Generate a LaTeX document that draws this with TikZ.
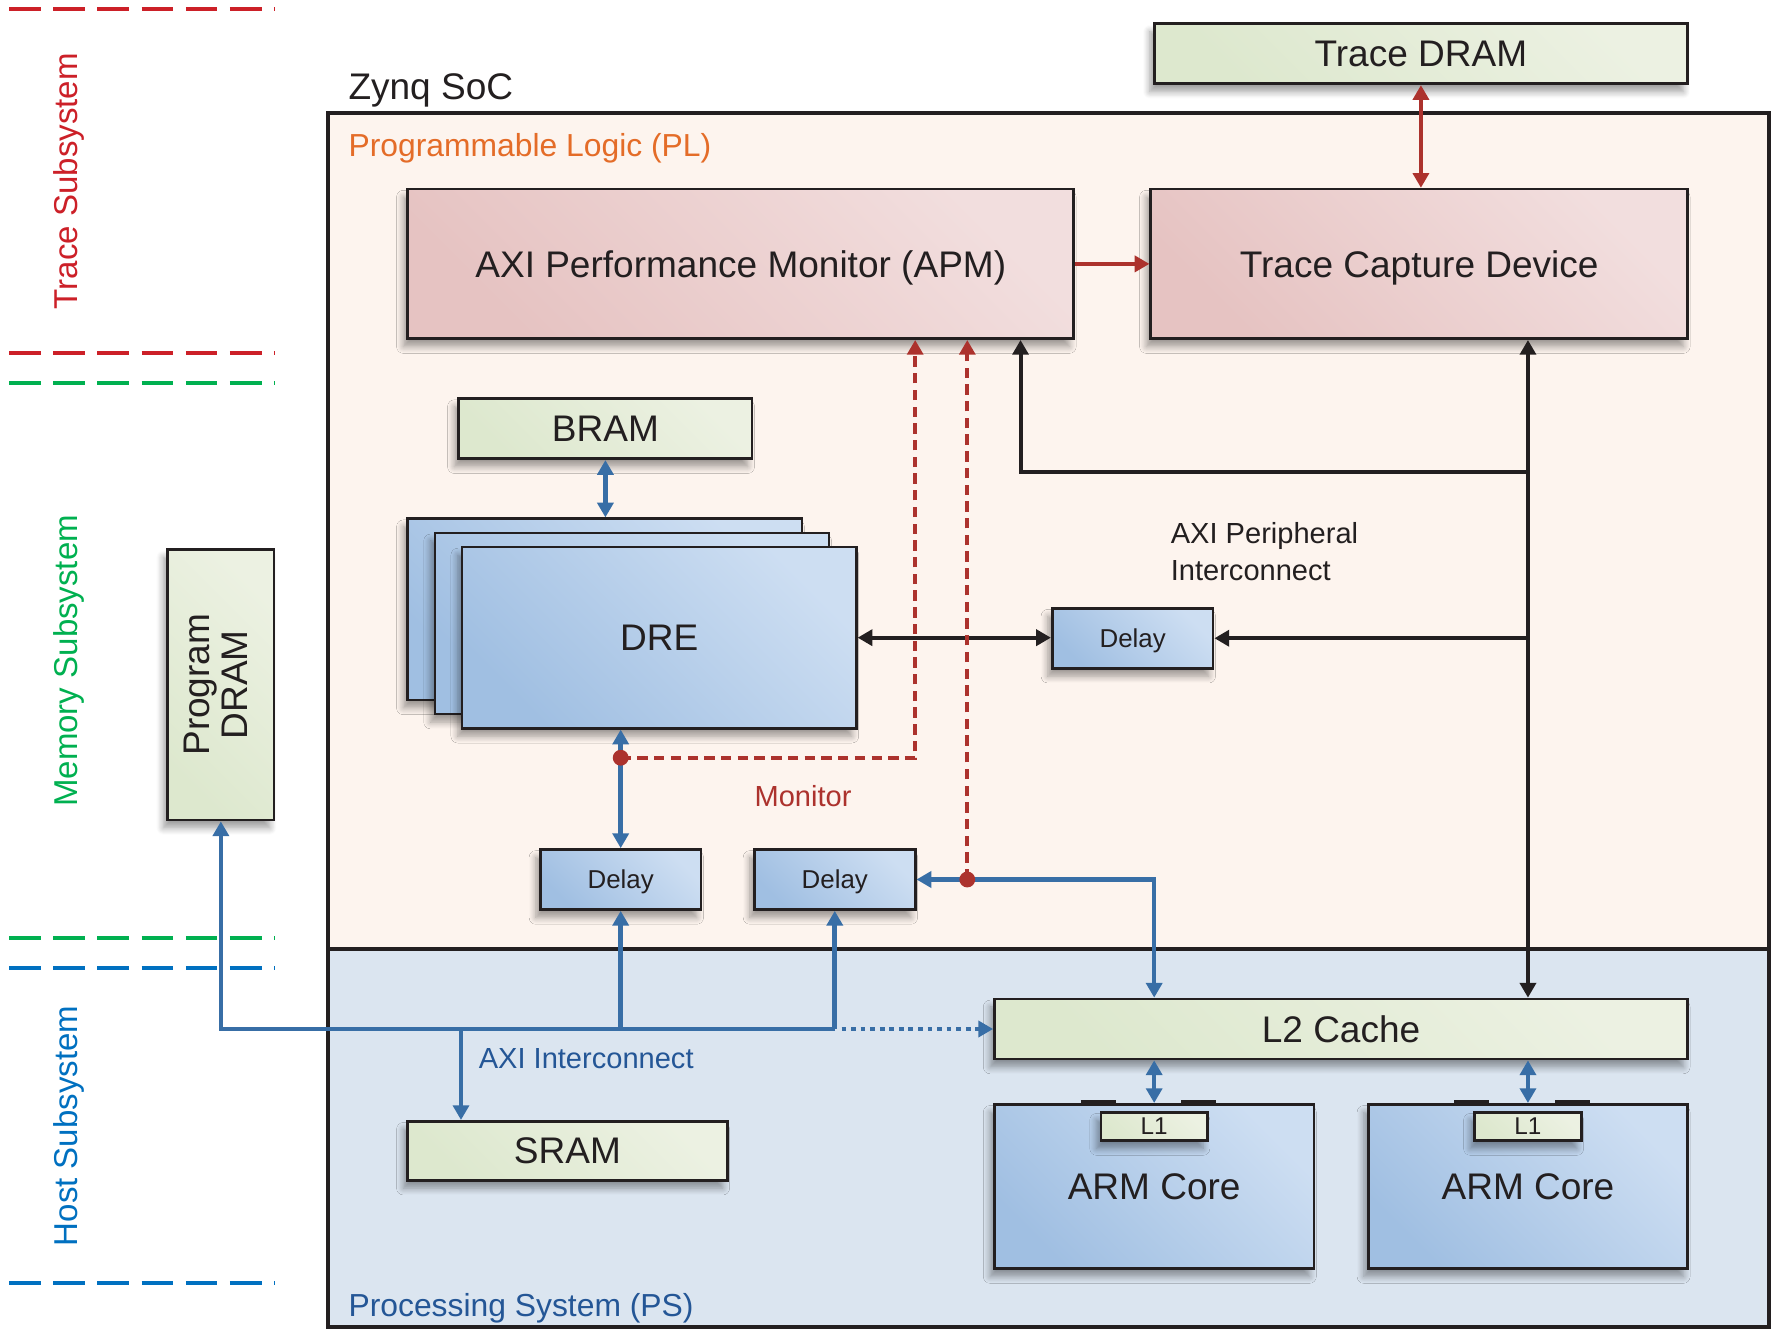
\documentclass[tikz,border=0pt]{standalone}
\usepackage{fontspec}
\setmainfont{Liberation Sans}
\usetikzlibrary{arrows.meta, positioning, calc, shadows.blur}

\definecolor{ink}{RGB}{35,31,32}
\definecolor{plbg}{RGB}{253,244,238}
\definecolor{psbg}{RGB}{219,229,240}
\definecolor{memlo}{RGB}{221,232,206}
\definecolor{memhi}{RGB}{236,241,226}
\definecolor{tcdlo}{RGB}{230,195,194}
\definecolor{tcdhi}{RGB}{242,222,222}
\definecolor{corelo}{RGB}{160,191,226}
\definecolor{corehi}{RGB}{205,222,242}
\definecolor{tracered}{RGB}{204,32,40}
\definecolor{memgreen}{RGB}{0,176,80}
\definecolor{hostblue}{RGB}{0,112,192}
\definecolor{plorange}{RGB}{228,108,40}
\definecolor{psblue}{RGB}{36,86,150}
\definecolor{busblue}{RGB}{56,110,166}
\definecolor{monred}{RGB}{172,50,45}

\tikzset{
    box/.style = {draw=ink, line width=0.67pt, inner sep=0pt, text=ink, text depth=0pt,
                  blur shadow={shadow xshift=-1.1pt, shadow yshift=-2pt,
                               shadow blur radius=1.7pt, shadow blur steps=8,
                               shadow opacity=38}},
    mem/.style = {box, top color=memhi, bottom color=memlo, shading angle=-45},
    tracebox/.style = {box, top color=tcdhi, bottom color=tcdlo, shading angle=-45},
    core/.style = {box, top color=corehi, bottom color=corelo, shading angle=-45},
    delaybox/.style = {core, minimum width=1.42cm, minimum height=0.53cm,
                       font=\fontsize{6.5}{7}\selectfont},
    lbl/.style = {inner sep=0pt},
    sublabel/.style = {rotate=90, anchor=base, inner sep=0pt, font=\fontsize{8.3}{9}\selectfont},
    split/.style = {line width=1pt, dash pattern=on 0.28cm off 0.11cm},
    bus/.style = {busblue, line width=1.15pt},
    ctrl/.style = {ink, line width=1pt},
    tr/.style = {monred, line width=1pt},
    monitor/.style = {monred, line width=1pt, dash pattern=on 2.6pt off 1.6pt},
    point/.style = {circle, fill=monred, inner sep=0pt, minimum size=0.14cm, node contents={}}
}

\begin{document}
\begin{tikzpicture}[
      > = {Triangle[length=3.7pt, width=4pt]}, % arrow head style
      font = \fontsize{9.3}{9.7}\selectfont
    ]
    \useasboundingbox (0,0) rectangle (15.68,11.75);

    % subsystem borders and names
    \foreach \y/\col in {11.67/tracered, 8.63/tracered, 8.37/memgreen,
                         3.47/memgreen, 3.20/hostblue, 0.42/hostblue}
        \draw[split, color=\col] (0.08,\y) -- (2.43,\y);
    \node[sublabel, text=tracered] (tsub) at (0.685,10.15) {Trace Subsystem};
    \node[sublabel, text=memgreen] (msub) at (0.685,5.915) {Memory Subsystem};
    \node[sublabel, text=hostblue] (hsub) at (0.685,1.81) {Host Subsystem};

    % Zynq SoC: PL on top of PS
    \fill[plbg] (2.90,3.37) rectangle (15.62,10.75);
    \fill[psbg] (2.90,0.03) rectangle (15.62,3.37);
    \draw[ink, line width=1pt] (2.90,3.37) -- (15.62,3.37);
    \draw[ink, line width=1pt] (2.90,0.03) rectangle (15.62,10.75);
    \node[lbl, anchor=base west, text=ink] (soc) at (3.07,10.87) {Zynq SoC};
    \node[lbl, anchor=base west, text=plorange, font=\fontsize{8}{9}\selectfont] (pl) at (3.07,10.37) {Programmable Logic (PL)};
    \node[lbl, anchor=base west, text=psblue, font=\fontsize{8}{9}\selectfont] (ps) at (3.07,0.13) {Processing System (PS)};

    % trace blocks
    \node[mem, minimum width=4.71cm, minimum height=0.53cm] (tdram) at (12.545,11.275) {Trace DRAM};
    \node[tracebox, minimum width=5.88cm, minimum height=1.32cm] (apm) at (6.54,9.42) {AXI Performance Monitor (APM)};
    \node[tracebox, minimum width=4.74cm, minimum height=1.32cm] (tcd) at (12.53,9.42) {Trace Capture Device};

    % DRE stack with its BRAM
    \node[mem, minimum width=2.59cm, minimum height=0.53cm] (bram) at (5.345,7.965) {BRAM};
    \node[core, minimum width=3.48cm, minimum height=1.6cm] (dre3) at (5.34,6.37) {};
    \node[core, minimum width=3.48cm, minimum height=1.6cm] (dre2) at (5.58,6.245) {};
    \node[core, minimum width=3.48cm, minimum height=1.6cm] (dre) at (5.82,6.12) {DRE};

    \node[delaybox] (dl1) at (10.0,6.115) {Delay};
    \node[delaybox] (dl2) at (5.48,3.985) {Delay};
    \node[delaybox] (dl3) at (7.37,3.985) {Delay};

    % host side
    \node[mem, minimum width=0.94cm, minimum height=2.39cm] (pdram) at (1.95,5.705)
        {\rotatebox{90}{\begin{tabular}{@{}c@{}}Program\\DRAM\end{tabular}}};
    \node[mem, minimum width=2.82cm, minimum height=0.52cm] (sram) at (5.01,1.59) {SRAM};
    \node[mem, minimum width=6.12cm, minimum height=0.53cm] (l2) at (11.84,2.665) {L2 Cache};
    \node[core, minimum width=2.82cm, minimum height=1.45cm] (arm1) at (10.19,1.275) {ARM Core};
    \node[core, minimum width=2.82cm, minimum height=1.45cm] (arm2) at (13.49,1.275) {ARM Core};
    \node[mem, minimum width=0.94cm, minimum height=0.25cm, font=\fontsize{6.1}{7}\selectfont] (l1a) at (10.19,1.805) {L1};
    \node[mem, minimum width=0.94cm, minimum height=0.25cm, font=\fontsize{6.1}{7}\selectfont] (l1b) at (13.49,1.805) {L1};
    \foreach \arm in {arm1, arm2} {
        \draw[ink, line width=1.3pt] ([xshift=-0.65cm]\arm.north) -- ([xshift=-0.34cm]\arm.north);
        \draw[ink, line width=1.3pt] ([xshift=0.24cm]\arm.north) -- ([xshift=0.55cm]\arm.north);
    }

    % trace links
    \draw[tr, ->] (apm) -- (tcd);
    \draw[tr, <->] (tdram.south) -- (tdram.south |- tcd.north);

    % AXI peripheral interconnect
    \coordinate (pj) at (13.49,7.58);
    \draw[ctrl, <->] (tcd.south -| pj) -- (l2.north -| pj);
    \draw[ctrl, ->] (pj) -| ([xshift=2.47cm]apm.south);
    \draw[ctrl, ->] (dl1.east -| pj) -- (dl1.east);
    \draw[ctrl, <->] (dre.east) -- (dre.east -| dl1.west);
    \node[lbl, anchor=north west, align=left, text=ink, font=\fontsize{7.3}{9.1}\selectfont] (apic) at (10.33,7.14)
        {AXI Peripheral\\Interconnect};

    % AXI interconnect
    \coordinate (axi) at (7.37,2.665);
    \draw[bus, <-] (pdram.south) |- (axi);
    \draw[bus, ->] (dl2.south |- axi) -- (dl2.south);
    \draw[bus, ->] (axi) -- (dl3.south);
    \draw[bus, ->] ([xshift=-0.94cm]sram.north |- axi) -- ([xshift=-0.94cm]sram.north);
    \draw[bus, ->, dash pattern=on 1.2pt off 1.2pt] ([xshift=0.06cm]axi) -- (l2.west);
    \node[lbl, anchor=base west, text=psblue, font=\fontsize{7.3}{9}\selectfont] (axilbl) at (4.22,2.32) {AXI Interconnect};

    \draw[bus, <->] (bram.south) -- (bram.south |- dre3.north);
    \draw[bus, <->] (dre.south -| dl2) -- (dl2.north);
    \draw[bus, <->] (dl3.east) -| (l2.north -| arm1);
    \draw[bus, <->] (l2.south -| arm1) -- (arm1.north);
    \draw[bus, <->] (l2.south -| arm2) -- (arm2.north);

    % monitor taps
    \coordinate (m1) at (5.48,5.06);
    \coordinate (m2) at (8.54,3.985);
    \draw[monitor, ->] (m1) -| ([xshift=1.54cm]apm.south);
    \draw[monitor, ->] (m2) -- (m2 |- apm.south);
    \node[point, name=m1dot, at=(m1)];
    \node[point, name=m2dot, at=(m2)];
    \node[lbl, anchor=base, text=monred, font=\fontsize{7.3}{9}\selectfont] (mon) at (7.09,4.63) {Monitor};
\end{tikzpicture}
\end{document}
